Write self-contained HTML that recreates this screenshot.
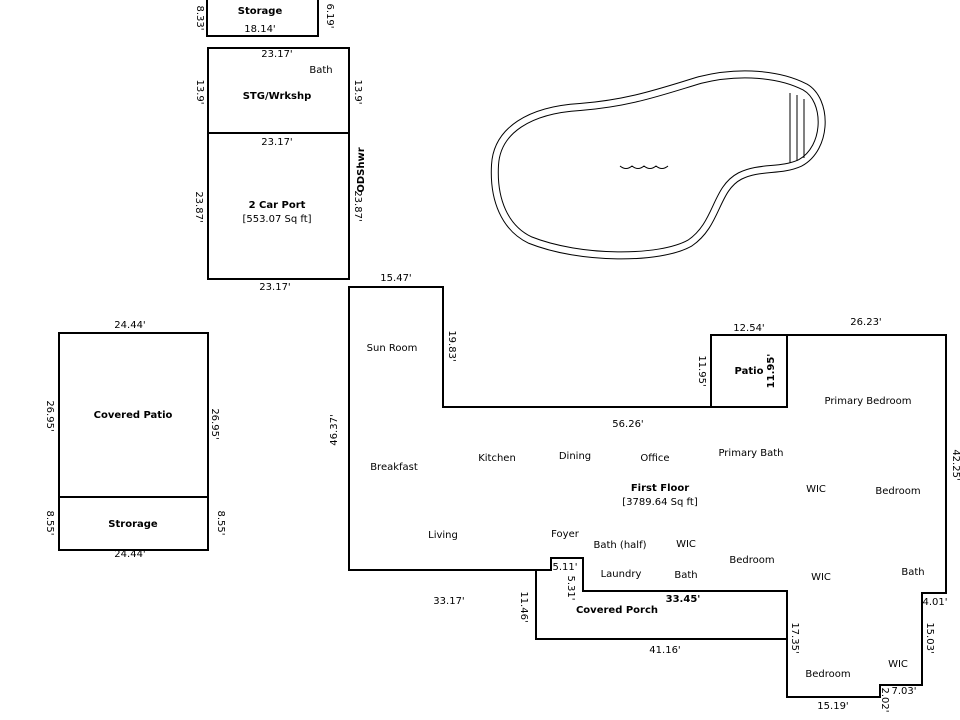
<!DOCTYPE html>
<html><head><meta charset="utf-8"><style>
html,body{margin:0;padding:0;background:#fff}
svg{display:block}
text{font-family:"DejaVu Sans","Liberation Sans",sans-serif;font-size:10px;fill:#000}
.b{font-weight:bold}
</style></head><body>
<svg width="960" height="720" viewBox="0 0 960 720" xmlns="http://www.w3.org/2000/svg">
<g fill="none" stroke="#000" stroke-width="2">
<rect x="207" y="-2" width="111" height="38"/>
<rect x="208" y="48" width="141" height="85"/>
<rect x="208" y="133" width="141" height="146"/>
<rect x="59" y="333" width="149" height="217"/>
<line x1="59" y1="497" x2="208" y2="497"/>
<path d="M349,287 H443 V407 H711 V335 H946 V593 H922 V685 H880 V697 H787 V591 H583 V558 H551 V570 H349 Z"/>
<path d="M711,407 H787 V335"/>
<path d="M536,570 V639 H787"/>
</g>
<path d="M495,165 C497,130 530,110 580,107 C630,103 660,92 700,80 C740,70 780,74 805,87 C828,100 828,148 800,163 C780,172 760,166 740,176 C715,189 718,224 690,243 C660,260 580,260 530,240 C505,228 493,200 495,165 Z" fill="none" stroke="#000" stroke-width="8"/>
<path d="M495,165 C497,130 530,110 580,107 C630,103 660,92 700,80 C740,70 780,74 805,87 C828,100 828,148 800,163 C780,172 760,166 740,176 C715,189 718,224 690,243 C660,260 580,260 530,240 C505,228 493,200 495,165 Z" fill="none" stroke="#fff" stroke-width="6"/>
<g fill="none" stroke="#000" stroke-width="1">
<line x1="790" y1="93" x2="790" y2="163"/>
<line x1="797" y1="95" x2="797" y2="161"/>
<line x1="804" y1="99" x2="804" y2="158"/>
<path d="M620,166 q6,5 12,0 q6,5 12,0 q6,5 12,0 q6,5 12,0"/>
</g>
<g text-anchor="middle">
<text x="260" y="14" class="b">Storage</text>
<text x="260" y="32">18.14'</text>
<text x="277" y="57">23.17'</text>
<text x="321" y="73">Bath</text>
<text x="277" y="99" class="b">STG/Wrkshp</text>
<text x="277" y="145">23.17'</text>
<text x="277" y="208" class="b">2 Car Port</text>
<text x="277" y="222">[553.07 Sq ft]</text>
<text x="275" y="290">23.17'</text>
<text x="396" y="281">15.47'</text>
<text x="130" y="328">24.44'</text>
<text x="133" y="418" class="b">Covered Patio</text>
<text x="133" y="527" class="b">Strorage</text>
<text x="130" y="557">24.44'</text>
<text x="392" y="351">Sun Room</text>
<text x="394" y="470">Breakfast</text>
<text x="497" y="461">Kitchen</text>
<text x="575" y="459">Dining</text>
<text x="655" y="461">Office</text>
<text x="751" y="456">Primary Bath</text>
<text x="868" y="404">Primary Bedroom</text>
<text x="749" y="374" class="b">Patio</text>
<text x="749" y="331">12.54'</text>
<text x="866" y="325">26.23'</text>
<text x="628" y="427">56.26'</text>
<text x="660" y="491" class="b">First Floor</text>
<text x="660" y="505">[3789.64 Sq ft]</text>
<text x="816" y="492">WIC</text>
<text x="898" y="494">Bedroom</text>
<text x="443" y="538">Living</text>
<text x="565" y="537">Foyer</text>
<text x="620" y="548">Bath (half)</text>
<text x="686" y="547">WIC</text>
<text x="752" y="563">Bedroom</text>
<text x="621" y="577">Laundry</text>
<text x="686" y="578">Bath</text>
<text x="821" y="580">WIC</text>
<text x="913" y="575">Bath</text>
<text x="565" y="570">5.11'</text>
<text x="449" y="604">33.17'</text>
<text x="617" y="613" class="b">Covered Porch</text>
<text x="683" y="602" class="b">33.45'</text>
<text x="665" y="653">41.16'</text>
<text x="828" y="677">Bedroom</text>
<text x="898" y="667">WIC</text>
<text x="904" y="694">7.03'</text>
<text x="833" y="709">15.19'</text>
<text x="935" y="605">4.01'</text>
</g>
<g text-anchor="middle">
<text transform="translate(197,18) rotate(90)">8.33'</text>
<text transform="translate(327,16) rotate(90)">6.19'</text>
<text transform="translate(197,92) rotate(90)">13.9'</text>
<text transform="translate(355,92) rotate(90)">13.9'</text>
<text transform="translate(196,207) rotate(90)">23.87'</text>
<text transform="translate(355,206) rotate(90)">23.87'</text>
<text transform="translate(364,170) rotate(-90)" class="b">ODShwr</text>
<text transform="translate(47,416) rotate(90)">26.95'</text>
<text transform="translate(212,424) rotate(90)">26.95'</text>
<text transform="translate(47,523) rotate(90)">8.55'</text>
<text transform="translate(218,523) rotate(90)">8.55'</text>
<text transform="translate(337,430) rotate(-90)">46.37'</text>
<text transform="translate(449,346) rotate(90)">19.83'</text>
<text transform="translate(699,371) rotate(90)">11.95'</text>
<text transform="translate(774,371) rotate(-90)" class="b">11.95'</text>
<text transform="translate(953,465) rotate(90)">42.25'</text>
<text transform="translate(521,607) rotate(90)">11.46'</text>
<text transform="translate(568,588) rotate(90)">5.31'</text>
<text transform="translate(792,638) rotate(90)">17.35'</text>
<text transform="translate(927,638) rotate(90)">15.03'</text>
<text transform="translate(882,700) rotate(90)">2.02'</text>
</g>
</svg>
</body></html>
